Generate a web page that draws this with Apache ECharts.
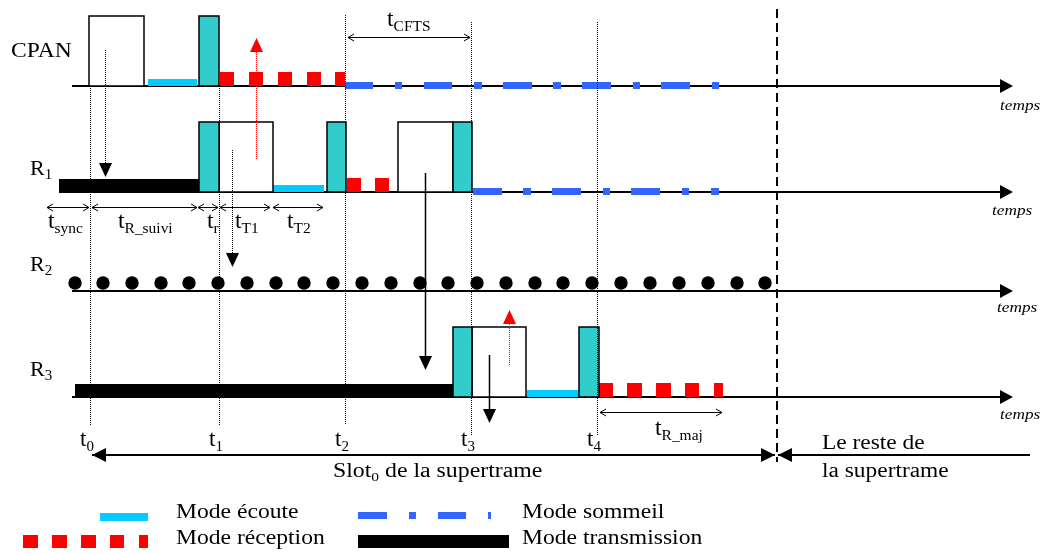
<!DOCTYPE html>
<html><head><meta charset="utf-8">
<script src="https://cdn.jsdelivr.net/npm/echarts@6/dist/echarts.min.js"></script>
<style>html,body{margin:0;padding:0;background:#fff}#c{width:1051px;height:554px}</style>
</head><body><div id="c"></div>
<script>
// ================= DATA (positions along the diagram's time axis) =================
const laneNames = ['CPAN', 'R', 'R', 'R'];
const laneSubs = ['', '1', '2', '3'];
const laneAxisStart = [72, 59, 72, 72];
const axisEnd = 1013;
// [lane, start, end]
const frames = [[0, 89, 144], [1, 219, 273], [1, 398, 453], [3, 472, 526]];
const acks = [[0, 199, 219], [1, 199, 219], [1, 327, 346], [1, 453, 472], [3, 453, 472], [3, 579, 599]];
const transmission = [[1, 59, 199], [3, 75, 453]];
const listening = [[0, 148, 197], [1, 273, 324], [3, 527, 579]];
const reception = [[0, 220, 234], [0, 249, 263], [0, 278, 292], [0, 307, 321], [0, 335, 345],
  [1, 347, 361], [1, 375, 389],
  [3, 599, 613], [3, 627, 642], [3, 656, 671], [3, 685, 699], [3, 714, 723]];
const sleeping = [[0, 345, 373], [0, 395, 402], [0, 424, 452], [0, 474, 482], [0, 503, 532], [0, 553, 561],
  [0, 582, 611], [0, 633, 640], [0, 661, 690], [0, 712, 719],
  [1, 473, 502], [1, 523, 531], [1, 552, 581], [1, 603, 610], [1, 631, 660], [1, 682, 689], [1, 711, 719]];
const beaconsR2 = [75, 103, 132, 161, 189, 218, 247, 276, 304, 333, 362, 391, 420, 448, 477, 506,
  535, 563, 592, 621, 650, 679, 708, 737, 765];
const tMarks = [90, 219, 345, 471, 597];
const tickLabels = ['0', '1', '2', '3', '4'];
const slotEnd = 777;
// messages: [x, from, to, kind]  kind 0 dotted black, 1 dotted red, 2 solid black
const messages = [[105, 50, 177, 0], [232, 150, 267, 0], [256, 159, 38, 1], [425, 173, 370, 2], [509, 365, 310, 1], [489, 355, 423, 2]];
// durations: [start, end]
const durations = [[348, 470], [47, 89], [92, 197], [198, 218], [220, 270], [273, 323], [600, 722]];
const durationNames = ['CFTS', 'sync', 'R_suivi', 'r', 'T1', 'T2', 'R_maj'];
const slotSpans = [[92, 775], [778, 1030]];
const legendNames = ['Mode écoute', 'Mode réception', 'Mode sommeil', 'Mode transmission'];

// ================= LAYOUT =================
const L = {
  laneBase: [86, 192, 291, 397],
  boxH: 70, txH: 13, listenH: 7, rxH: 14, sleepUp: 4, sleepDown: 3, dotR: 6.7, dotUp: 8,
  markTop: [86, 86, 15, 22, 22], markBottom: [425, 425, 425, 435, 435],
  slotTop: 9, slotBottom: 462,
  durY: [37, 207, 207, 207, 207, 207, 412],
  durLabel: [[387, 28], [48, 230], [118, 230], [207, 230], [235, 230], [287, 230], [655, 437]],
  tickBase: 448, slotY: 455,
  font: '"Liberation Serif", "Times New Roman", serif'
};
const C = { teal: '#33CCCC', listen: '#00CCFF', sleep: '#3366FF', rx: '#FF0000', tx: '#000000' };

// ================= HELPERS =================
const mctx = document.createElement('canvas').getContext('2d');
function tw(t, fs, it) { mctx.font = (it ? 'italic ' : '') + fs + 'px ' + L.font; return mctx.measureText(t).width; }
function textGroup(x, base, parts, sx, italic, api) {
  sx = sx || 1; const ch = []; let cx = x;
  parts.forEach(p => {
    const fs = p[1], dy = p[2] || 0;
    const pt = api.coord([cx, base + dy]);
    ch.push({ type: 'text', x: pt[0], y: pt[1] - 0.3375 * fs, scaleX: sx,
      style: { text: p[0], fontFamily: L.font, fontSize: fs, fontStyle: italic ? 'italic' : 'normal',
        fill: '#000', align: 'left', verticalAlign: 'middle' } });
    cx += tw(p[0], fs, italic) * sx;
  });
  return ch;
}
function rectEl(api, x0, x1, y0, y1, style) {
  const a = api.coord([x0, y0]), b = api.coord([x1, y1]);
  return { type: 'rect', shape: { x: Math.min(a[0], b[0]), y: Math.min(a[1], b[1]), width: Math.abs(b[0] - a[0]), height: Math.abs(b[1] - a[1]) }, style };
}
function lineEl(a, b, style) { return { type: 'line', shape: { x1: a[0], y1: a[1], x2: b[0], y2: b[1] }, style }; }
function crispV(a, b) { return [[Math.round(a[0]) + 0.5, a[1]], [Math.round(b[0]) + 0.5, b[1]]]; }
function crispH(a, b) { return [[a[0], Math.round(a[1]) + 0.5], [b[0], Math.round(b[1]) + 0.5]]; }
function head(tip, dx, dy, len, half, fill) { // filled triangle, (dx,dy) direction unit
  const bx = tip[0] - dx * len, by = tip[1] - dy * len;
  return { type: 'polygon', shape: { points: [[tip[0], tip[1]], [bx - dy * half, by + dx * half], [bx + dy * half, by - dx * half]] }, style: { fill } };
}
function openHead(tip, dx, len, half) {
  return { type: 'polyline', shape: { points: [[tip[0] - dx * len, tip[1] - half], [tip[0], tip[1]], [tip[0] - dx * len, tip[1] + half]] }, style: { stroke: '#000', lineWidth: 1, fill: null } };
}

const series = [];
function custom(name, data, fn, z) {
  series.push({ type: 'custom', name, data, z: z || 2, silent: true, clip: false, animation: false,
    renderItem: (params, api) => fn(api, data[params.dataIndex], params.dataIndex) });
}

// lane time axes
custom('axes', L.laneBase.map((b, i) => [laneAxisStart[i], b]), (api, r, i) => {
  const b = L.laneBase[i];
  const p0 = api.coord([laneAxisStart[i], b]), p1 = api.coord([axisEnd - 13, b]), tip = api.coord([axisEnd, b]);
  return { type: 'group', children: [lineEl(p0, p1, { stroke: '#000', lineWidth: 2 }), head(tip, 1, 0, 13, 7, '#000')] };
}, 1);
custom('Mode transmission', transmission, (api, r) => rectEl(api, r[1], r[2], L.laneBase[r[0]] - L.txH, L.laneBase[r[0]], { fill: C.tx }), 3);
custom('Mode écoute', listening, (api, r) => rectEl(api, r[1], r[2], L.laneBase[r[0]] - L.listenH, L.laneBase[r[0]], { fill: C.listen }), 3);
custom('Mode réception', reception, (api, r) => rectEl(api, r[1], r[2], L.laneBase[r[0]] - L.rxH, L.laneBase[r[0]], { fill: C.rx }), 3);
custom('Mode sommeil', sleeping, (api, r) => rectEl(api, r[1], r[2], L.laneBase[r[0]] - L.sleepUp, L.laneBase[r[0]] + L.sleepDown, { fill: C.sleep }), 3);
custom('trames', frames, (api, r) => rectEl(api, r[1], r[2], L.laneBase[r[0]] - L.boxH, L.laneBase[r[0]], { fill: '#fff', stroke: '#000', lineWidth: 1.5 }), 3);
custom('acquittements', acks, (api, r) => rectEl(api, r[1], r[2], L.laneBase[r[0]] - L.boxH, L.laneBase[r[0]], { fill: C.teal, stroke: '#000', lineWidth: 1.5 }), 4);
custom('balises R2', beaconsR2.map(x => [x]), (api, r) => {
  const c = api.coord([r[0], L.laneBase[2] - L.dotUp]);
  return { type: 'circle', shape: { cx: c[0], cy: c[1], r: L.dotR }, style: { fill: '#000' } };
}, 3);
// time marks (dotted verticals)
custom('marques', tMarks.map(x => [x]), (api, r, i) => {
  const s = crispV(api.coord([r[0], L.markTop[i]]), api.coord([r[0], L.markBottom[i]]));
  return lineEl(s[0], s[1], { stroke: '#000', lineWidth: 1, lineDash: [1, 1] });
}, 5);
// slot boundary
custom('fin slot', [[slotEnd]], (api, r) => lineEl(api.coord([r[0], L.slotTop]), api.coord([r[0], L.slotBottom]), { stroke: '#000', lineWidth: 2, lineDash: [9, 5] }), 5);
// messages
custom('messages', messages, (api, r) => {
  const a = api.coord([r[0], r[1]]), b = api.coord([r[0], r[2]]);
  const dir = b[1] > a[1] ? 1 : -1;
  const col = r[3] === 1 ? C.rx : '#000';
  const end = [b[0], b[1] - dir * 12];
  const s = crispV(a, end);
  const st = r[3] === 2 ? { stroke: col, lineWidth: 1.5 } : { stroke: col, lineWidth: 1, lineDash: [1, 1] };
  return { type: 'group', children: [lineEl(s[0], s[1], st), head([b[0] + 0.5, b[1]], 0, dir, 14, 6.5, col)] };
}, 6);
// durations
custom('durées', durations, (api, r, i) => {
  const y = L.durY[i];
  const s = crispH(api.coord([r[0], y]), api.coord([r[1], y]));
  return { type: 'group', children: [lineEl(s[0], s[1], { stroke: '#000', lineWidth: 1 }), openHead(s[0], -1, 6, 3.5), openHead(s[1], 1, 6, 3.5)] };
}, 6);
// slot spans
custom('slots', slotSpans, (api, r, i) => {
  const a = api.coord([r[0], L.slotY]), b = api.coord([r[1], L.slotY]);
  const ch = [lineEl(a, b, { stroke: '#000', lineWidth: 2 }), head(a, -1, 0, 14, 7, '#000')];
  if (i === 0) ch.push(head(b, 1, 0, 14, 7, '#000'));
  return { type: 'group', children: ch };
}, 6);

// ================= TEXTS =================
const texts = [];
texts.push({ x: 11, base: 59, sx: 1.07, parts: [[laneNames[0], 22]] });
[1, 2, 3].forEach((i, k) => texts.push({ x: 30, base: [177, 273, 378][k], parts: [[laneNames[i], 22], [laneSubs[i], 15, 3]] }));
durationNames.forEach((n, i) => texts.push({ x: L.durLabel[i][0], base: L.durLabel[i][1], sx: 1.03, parts: [['t', 23], [n, 15, 4]] }));
tickLabels.forEach((n, i) => texts.push({ x: tMarks[i] - 10, base: L.tickBase, parts: [['t', 23], [n, 15, 4]] }));
texts.push({ x: 333, base: 478, sx: 1.19, parts: [['Slot', 20], ['0', 13, 4], [' de la supertrame', 20]] });
texts.push({ x: 822, base: 450, sx: 1.17, parts: [['Le reste de', 20]] });
texts.push({ x: 822, base: 478, sx: 1.17, parts: [['la supertrame', 20]] });
[[176, 519], [176, 545], [522, 519], [522, 545]].forEach((p, i) => texts.push({ x: p[0], base: p[1], sx: 1.18, parts: [[legendNames[i], 20]] }));
[[1000, 111], [992, 216], [997, 313], [1000, 420]].forEach(p => texts.push({ x: p[0], base: p[1], sx: 1.15, italic: true, parts: [['temps', 15]] }));
custom('textes', texts.map((t, i) => [i]), (api, r) => {
  const t = texts[r[0]];
  return { type: 'group', children: textGroup(t.x, t.base, t.parts, t.sx, t.italic, api) };
}, 7);

// ================= LEGEND SAMPLES =================
const legendSamples = [
  { y0: 513, y1: 521, fill: C.listen, segs: [[100, 148]] },
  { y0: 535, y1: 548, fill: C.rx, segs: [[23, 38], [52, 67], [81, 96], [110, 124], [139, 148]] },
  { y0: 512, y1: 519, fill: C.sleep, segs: [[358, 387], [409, 416], [438, 466], [488, 491]] },
  { y0: 535, y1: 548, fill: C.tx, segs: [[358, 509]] }
];
custom('légende', legendSamples.map((s, i) => [i]), (api, r) => {
  const s = legendSamples[r[0]];
  return { type: 'group', children: s.segs.map(g => rectEl(api, g[0], g[1], s.y0, s.y1, { fill: s.fill })) };
}, 3);

const chart = echarts.init(document.getElementById('c'), null, { renderer: 'canvas' });
chart.setOption({
  animation: false,
  backgroundColor: '#fff',
  grid: { left: 0, right: 0, top: 0, bottom: 0 },
  xAxis: { type: 'value', min: 0, max: 1051, show: false },
  yAxis: { type: 'value', min: 0, max: 554, inverse: true, show: false },
  series
});
</script></body></html>
